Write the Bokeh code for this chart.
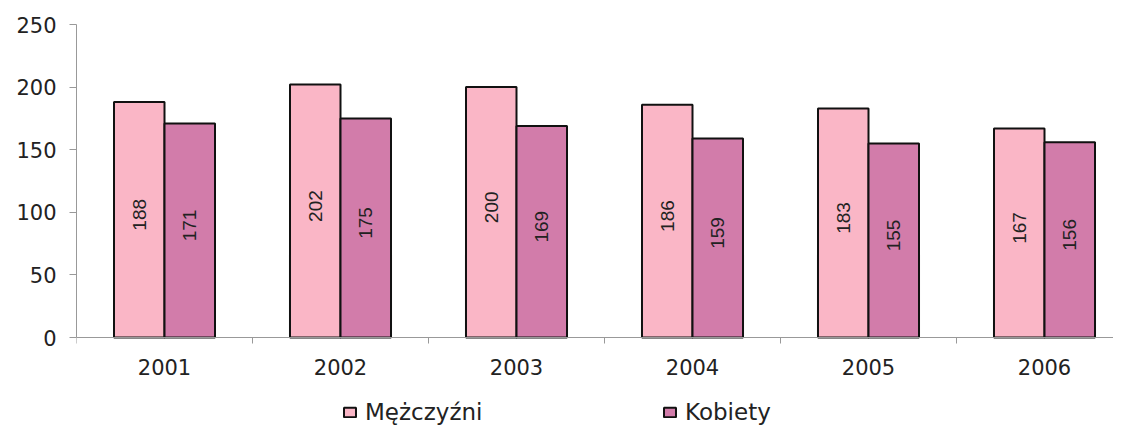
import math
from bokeh.plotting import figure
from bokeh.models import (ColumnDataSource, Range1d, FixedTicker, Legend, LegendItem)
from bokeh.core.properties import value
from bokeh.embed import file_html
from bokeh.resources import INLINE

years = ["2001", "2002", "2003", "2004", "2005", "2006"]
mezczyzni = [188, 202, 200, 186, 183, 167]
kobiety = [171, 175, 169, 159, 155, 156]
y_ticks = [0, 50, 100, 150, 200, 250]

PINK = "#FAB6C6"
PURPLE = "#D27CAA"

n = len(years)
centers = [i + 0.5 for i in range(n)]
bounds = [float(i) for i in range(n + 1)]
bw = 0.287

src_m = ColumnDataSource(dict(x=[c - bw / 2 for c in centers], top=mezczyzni,
                              ymid=[v / 2 for v in mezczyzni], lab=[str(v) for v in mezczyzni]))
src_k = ColumnDataSource(dict(x=[c + bw / 2 for c in centers], top=kobiety,
                              ymid=[v / 2 for v in kobiety], lab=[str(v) for v in kobiety]))

# frame: 24px top border, extends to the figure bottom; 1.252 px per unit
W, H, TOP, LEFT = 1113, 425, 24, 76
ppu = 1.252
ymin = 250 - (H - TOP) / ppu
xmax = (W - LEFT) / 176.0

p = figure(width=W, height=H, output_backend="svg", toolbar_location=None,
           x_range=Range1d(0, xmax), y_range=Range1d(ymin, 250),
           min_border_left=LEFT, min_border_right=0, min_border_top=TOP, min_border_bottom=0)
p.outline_line_color = None
p.xgrid.visible = False
p.ygrid.visible = False
p.background_fill_color = "white"

rm = p.vbar(x="x", top="top", bottom=0, width=bw, source=src_m,
            fill_color=PINK, line_color="#111111", line_width=2)
rk = p.vbar(x="x", top="top", bottom=0, width=bw, source=src_k,
            fill_color=PURPLE, line_color="#111111", line_width=2)

for src in (src_m, src_k):
    p.text(x="x", y="ymid", text="lab", source=src, angle=math.pi / 2,
           text_align="center", text_baseline="middle", y_offset=-5,
           text_font=value("Liberation Sans"), text_font_size="19px", text_color="#222222")

# x axis, drawn at y = 0 inside the frame
xa = p.xaxis[0]
xa.fixed_location = 0
xa.ticker = FixedTicker(ticks=centers, minor_ticks=bounds)
xa.major_label_overrides = {c: y for c, y in zip(centers, years)}
xa.major_tick_line_color = None
xa.major_tick_out = 0
xa.major_tick_in = 0
xa.minor_tick_line_color = "#999999"
xa.minor_tick_out = 6
xa.minor_tick_in = 0
xa.axis_line_color = "#999999"
xa.axis_line_width = 1
xa.major_label_text_font = "DejaVu Sans"
xa.major_label_text_font_size = "21px"
xa.major_label_text_color = "#222222"
xa.major_label_standoff = 15

# y axis
ya = p.yaxis[0]
ya.bounds = (0, 250)
ya.ticker = FixedTicker(ticks=y_ticks)
ya.minor_tick_line_color = None
ya.major_tick_line_color = "#999999"
ya.major_tick_out = 7
ya.major_tick_in = 0
ya.axis_line_color = "#999999"
ya.major_label_text_font = "DejaVu Sans"
ya.major_label_text_font_size = "21px"
ya.major_label_text_color = "#222222"
ya.major_label_standoff = 13

def make_legend(label, renderer, x):
    lg = Legend(items=[LegendItem(label=label, renderers=[renderer])],
                location=(x, 0), orientation="horizontal",
                border_line_color=None, background_fill_alpha=0,
                padding=0, margin=0, spacing=0,
                glyph_width=15, glyph_height=12, label_standoff=8,
                label_text_font="DejaVu Sans", label_text_font_size="23px",
                label_text_color="#222222")
    p.add_layout(lg, "center")

make_legend("Mężczyźni", rm, 266)
make_legend("Kobiety", rk, 586)

open("out.html", "w").write(file_html(p, INLINE))
